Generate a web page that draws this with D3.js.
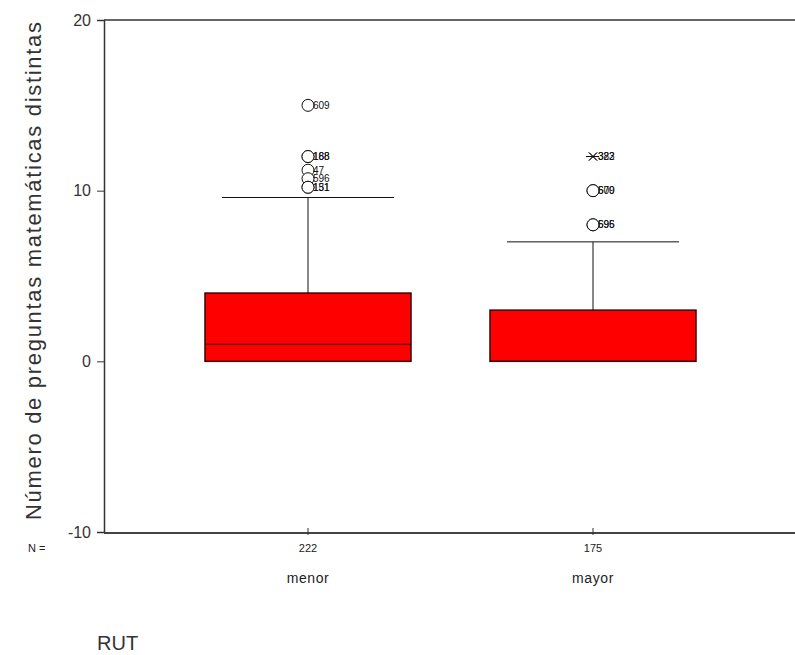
<!DOCTYPE html>
<html>
<head>
<meta charset="utf-8">
<title>RUT boxplot</title>
<script src="https://d3js.org/d3.v7.min.js"></script>
<style>
body { margin: 0; background: #fff; }
text { font-family: "Liberation Sans", Arial, sans-serif; }
</style>
</head>
<body>
<svg id="chart" width="795" height="655"></svg>
<script>
// data
var categories = ["menor", "mayor"];
var counts = [222, 175];
var q1 = [0, 0];
var medians = [1, 0];
var q3 = [4, 3];
var whiskLow = [0, 0];
var whiskHigh = [9.6, 7];
// outliers: [category, value, case label, kind]
var outliers = [
	["menor", 15, "609", "o"],
	["menor", 12, "168", "o"],
	["menor", 12, "188", "o"],
	["menor", 11.2, "47", "o"],
	["menor", 10.7, "596", "o"],
	["menor", 10.2, "151", "o"],
	["menor", 10.2, "131", "o"],
	["mayor", 12, "322", "*"],
	["mayor", 12, "383", "*"],
	["mayor", 10, "570", "o"],
	["mayor", 10, "609", "o"],
	["mayor", 8, "595", "o"],
	["mayor", 8, "696", "o"]
];
var yTicks = [20, 10, 0, -10];

var svg = d3.select("#chart");
var plotL = 104, plotT = 20, plotB = 532, plotR = 795;

var y = d3.scaleLinear().domain([-10, 20]).range([plotB, plotT]);
var x = d3.scalePoint().domain(categories).range([308, 593]);
var boxW = 206;
var capW = 172;

// frame lines
svg.append("line").attr("x1", plotL).attr("x2", plotR).attr("y1", plotT).attr("y2", plotT)
	.attr("stroke", "#333").attr("stroke-width", 1.5);
svg.append("line").attr("x1", plotL).attr("x2", plotR).attr("y1", plotB + 1).attr("y2", plotB + 1)
	.attr("stroke", "#444").attr("stroke-width", 2);

// y axis (plain hyphen for negatives, like the original)
var yAxis = d3.axisLeft(y).tickValues(yTicks).tickSize(7).tickPadding(6)
	.tickFormat(function (d) { return String(d); });
var gy = svg.append("g").attr("transform", "translate(" + plotL + ",0)").call(yAxis);
gy.select(".domain").attr("stroke", "#333").attr("stroke-width", 1.5);
gy.selectAll(".tick line").attr("stroke", "#333");
gy.selectAll(".tick text").attr("font-size", 16).attr("fill", "#333")
	.style("font-family", "'Liberation Sans', Arial, sans-serif");

// x ticks (small marks at category centres)
svg.selectAll("line.xtick").data(categories).enter().append("line")
	.attr("class", "xtick")
	.attr("x1", function (d) { return x(d); }).attr("x2", function (d) { return x(d); })
	.attr("y1", plotB - 4).attr("y2", plotB + 3)
	.attr("stroke", "#333");

// N labels
svg.append("text").attr("x", 28).attr("y", 552).attr("font-size", 11).attr("fill", "#222").text("N =");
svg.selectAll("text.n").data(categories).enter().append("text")
	.attr("class", "n")
	.attr("x", function (d) { return x(d); }).attr("y", 552)
	.attr("text-anchor", "middle").attr("font-size", 11).attr("fill", "#222")
	.text(function (d, i) { return counts[i]; });
svg.selectAll("text.cat").data(categories).enter().append("text")
	.attr("class", "cat")
	.attr("x", function (d) { return x(d); }).attr("y", 583)
	.attr("text-anchor", "middle").attr("font-size", 14).attr("fill", "#222")
	.attr("letter-spacing", 0.6)
	.text(function (d) { return d; });

// axis titles
svg.append("text").attr("x", 97).attr("y", 650).attr("font-size", 20).attr("fill", "#333").text("RUT");
svg.append("text")
	.attr("transform", "translate(41,271) rotate(-90)")
	.attr("text-anchor", "middle").attr("font-size", 22).attr("fill", "#333")
	.attr("textLength", 498).attr("lengthAdjust", "spacing")
	.text("Número de preguntas matemáticas distintas");

// whiskers, boxes, medians
var g = svg.append("g");
categories.forEach(function (c, i) {
	var cx = x(c);
	g.append("line").attr("x1", cx).attr("x2", cx)
		.attr("y1", y(q3[i])).attr("y2", y(whiskHigh[i]))
		.attr("stroke", "#111");
	g.append("line").attr("x1", cx - capW / 2).attr("x2", cx + capW / 2)
		.attr("y1", y(whiskHigh[i])).attr("y2", y(whiskHigh[i]))
		.attr("stroke", "#111");
	g.append("rect")
		.attr("x", cx - boxW / 2).attr("width", boxW)
		.attr("y", y(q3[i])).attr("height", y(q1[i]) - y(q3[i]))
		.attr("fill", "#ff0000").attr("stroke", "#3a0000").attr("stroke-width", 1.5);
	g.append("line").attr("x1", cx - boxW / 2).attr("x2", cx + boxW / 2)
		.attr("y1", y(medians[i])).attr("y2", y(medians[i]))
		.attr("stroke", "#3a0000").attr("stroke-width", 1.2);
});

// outliers
outliers.forEach(function (o) {
	var cx = x(o[0]), cy = y(o[1]);
	if (o[3] === "o") {
		g.append("circle").attr("cx", cx).attr("cy", cy).attr("r", 6)
			.attr("fill", "#fff").attr("stroke", "#111");
	} else {
		g.append("path")
			.attr("d", "M" + (cx - 7) + "," + cy + "H" + (cx + 6) +
				"M" + (cx - 4) + "," + (cy - 4) + "L" + (cx + 4) + "," + (cy + 4) +
				"M" + (cx - 4) + "," + (cy + 4) + "L" + (cx + 4) + "," + (cy - 4))
			.attr("stroke", "#111").attr("fill", "none");
	}
	g.append("text").attr("x", cx + 5).attr("y", cy + 3.5)
		.attr("font-size", 10).attr("fill", "#111")
		.text(o[2]);
});
</script>
</body>
</html>
